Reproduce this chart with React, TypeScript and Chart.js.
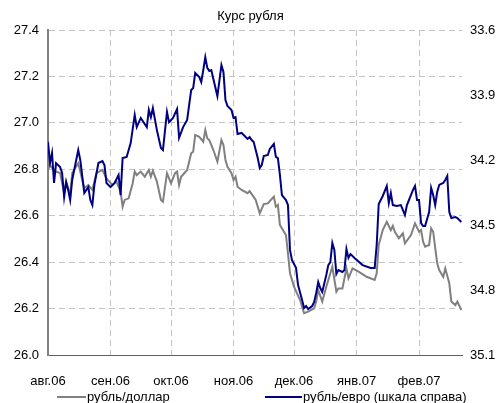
import React, { useEffect, useRef } from 'react';
import { Chart, registerables } from 'chart.js';

Chart.register(...registerables);

const chartTitle = 'Курс рубля';
const usdLabel = 'рубль/доллар';
const eurLabel = 'рубль/евро (шкала справа)';

const monthStarts = ['2006-08-01', '2006-09-01', '2006-10-01', '2006-11-01', '2006-12-01', '2007-01-01', '2007-02-01'];
const monthLabels = ['авг.06', 'сен.06', 'окт.06', 'ноя.06', 'дек.06', 'янв.07', 'фев.07'];
const periodStart = '2006-08-01';
const periodEnd = '2007-02-22';

const usdDates = [
  '2006-08-01', '2006-08-03', '2006-08-05', '2006-08-07', '2006-08-09', '2006-08-10', '2006-08-12', '2006-08-13',
  '2006-08-16', '2006-08-18', '2006-08-19', '2006-08-21', '2006-08-23', '2006-08-25', '2006-08-28', '2006-08-30',
  '2006-09-02', '2006-09-04', '2006-09-06', '2006-09-07', '2006-09-08', '2006-09-10', '2006-09-12', '2006-09-13',
  '2006-09-14', '2006-09-16', '2006-09-18', '2006-09-20', '2006-09-21', '2006-09-22', '2006-09-24', '2006-09-26',
  '2006-09-27', '2006-09-29',
  '2006-10-01', '2006-10-03', '2006-10-04', '2006-10-05', '2006-10-06', '2006-10-09', '2006-10-11', '2006-10-12',
  '2006-10-13', '2006-10-15', '2006-10-17', '2006-10-18', '2006-10-19', '2006-10-20', '2006-10-22', '2006-10-24',
  '2006-10-26', '2006-10-27', '2006-10-28', '2006-10-29', '2006-10-31',
  '2006-11-01', '2006-11-02', '2006-11-03', '2006-11-05', '2006-11-08', '2006-11-09', '2006-11-12', '2006-11-14',
  '2006-11-16', '2006-11-18', '2006-11-21', '2006-11-22', '2006-11-23', '2006-11-24', '2006-11-26', '2006-11-27',
  '2006-11-28', '2006-11-29',
  '2006-12-01', '2006-12-04', '2006-12-06', '2006-12-08', '2006-12-11', '2006-12-12', '2006-12-13', '2006-12-15',
  '2006-12-17', '2006-12-20', '2006-12-22', '2006-12-23', '2006-12-25', '2006-12-27', '2006-12-28', '2006-12-30',
  '2007-01-02', '2007-01-06', '2007-01-10', '2007-01-11', '2007-01-12', '2007-01-14', '2007-01-16', '2007-01-18',
  '2007-01-19', '2007-01-20', '2007-01-22', '2007-01-24', '2007-01-25', '2007-01-28', '2007-01-30',
  '2007-02-01', '2007-02-02', '2007-02-03', '2007-02-04', '2007-02-06', '2007-02-07', '2007-02-08', '2007-02-10',
  '2007-02-11', '2007-02-13', '2007-02-14', '2007-02-16', '2007-02-17', '2007-02-19', '2007-02-20', '2007-02-22',
];
const usdValues = [
  26.827, 26.806, 26.790, 26.784, 26.698, 26.747, 26.689, 26.784, 26.826, 26.754, 26.719, 26.732, 26.711, 26.783, 26.797, 26.761,
  26.732, 26.747, 26.703, 26.639, 26.668, 26.675, 26.740, 26.790, 26.775, 26.790, 26.768, 26.797, 26.768, 26.794, 26.747, 26.668,
  26.660, 26.783,
  26.740, 26.783, 26.790, 26.732, 26.768, 26.797, 26.869, 26.876, 26.948, 26.940, 26.919, 26.969, 26.933, 26.926, 26.883, 26.833,
  26.926, 26.905, 26.840, 26.811, 26.783,
  26.754, 26.768, 26.725, 26.711, 26.697, 26.706, 26.668, 26.610, 26.650, 26.653, 26.682, 26.639, 26.646, 26.560, 26.531, 26.517,
  26.438, 26.352,
  26.294, 26.237, 26.180, 26.187, 26.201, 26.230, 26.280, 26.230, 26.294, 26.380, 26.273, 26.287, 26.287, 26.373, 26.330, 26.373,
  26.359, 26.337, 26.323, 26.352, 26.474, 26.538, 26.574, 26.538, 26.556, 26.531, 26.503, 26.524, 26.481, 26.517, 26.567,
  26.531, 26.538, 26.488, 26.467, 26.474, 26.546, 26.531, 26.395, 26.366, 26.337, 26.373, 26.309, 26.230, 26.215, 26.230, 26.194,
];

const eurDates = [
  '2006-08-01', '2006-08-02', '2006-08-03', '2006-08-04', '2006-08-05', '2006-08-07', '2006-08-08', '2006-08-09',
  '2006-08-10', '2006-08-11', '2006-08-12', '2006-08-13', '2006-08-15', '2006-08-16', '2006-08-17', '2006-08-19',
  '2006-08-21', '2006-08-22', '2006-08-23', '2006-08-24', '2006-08-26', '2006-08-28', '2006-08-29', '2006-08-30',
  '2006-09-01', '2006-09-03', '2006-09-05', '2006-09-06', '2006-09-07', '2006-09-09', '2006-09-11', '2006-09-13',
  '2006-09-14', '2006-09-16', '2006-09-19', '2006-09-20', '2006-09-21', '2006-09-22', '2006-09-24', '2006-09-26',
  '2006-09-27', '2006-09-29', '2006-09-30',
  '2006-10-02', '2006-10-04', '2006-10-05', '2006-10-07', '2006-10-09', '2006-10-10', '2006-10-11', '2006-10-12',
  '2006-10-13', '2006-10-15', '2006-10-16', '2006-10-17', '2006-10-18', '2006-10-19', '2006-10-20', '2006-10-21',
  '2006-10-22', '2006-10-24', '2006-10-26', '2006-10-27', '2006-10-28', '2006-10-29', '2006-10-31',
  '2006-11-01', '2006-11-02', '2006-11-03', '2006-11-05', '2006-11-07', '2006-11-08', '2006-11-09', '2006-11-10',
  '2006-11-11', '2006-11-13', '2006-11-14', '2006-11-15', '2006-11-16', '2006-11-18', '2006-11-19', '2006-11-21',
  '2006-11-22', '2006-11-23', '2006-11-24', '2006-11-25', '2006-11-27', '2006-11-28', '2006-11-29', '2006-11-30',
  '2006-12-02', '2006-12-03', '2006-12-05', '2006-12-06', '2006-12-07', '2006-12-08', '2006-12-10', '2006-12-11',
  '2006-12-12', '2006-12-13', '2006-12-14', '2006-12-15', '2006-12-17', '2006-12-18', '2006-12-19', '2006-12-20',
  '2006-12-21', '2006-12-22', '2006-12-23', '2006-12-25', '2006-12-26', '2006-12-27', '2006-12-28', '2006-12-29',
  '2006-12-31',
  '2007-01-04', '2007-01-08', '2007-01-10', '2007-01-11', '2007-01-12', '2007-01-14', '2007-01-16', '2007-01-17',
  '2007-01-18', '2007-01-19', '2007-01-21', '2007-01-23', '2007-01-24', '2007-01-25', '2007-01-26', '2007-01-29',
  '2007-01-30', '2007-01-31',
  '2007-02-01', '2007-02-02', '2007-02-03', '2007-02-04', '2007-02-06', '2007-02-07', '2007-02-08', '2007-02-09',
  '2007-02-10', '2007-02-11', '2007-02-13', '2007-02-14', '2007-02-15', '2007-02-16', '2007-02-17', '2007-02-19',
  '2007-02-20', '2007-02-22',
];
const eurValues = [
  34.116, 34.214, 34.168, 34.306, 34.214, 34.232, 34.260, 34.371, 34.302, 34.338, 34.385, 34.292, 34.200, 34.154, 34.200, 34.352,
  34.325, 34.385, 34.408, 34.315, 34.214, 34.205, 34.223, 34.306,
  34.325, 34.306, 34.269, 34.362, 34.191, 34.186, 34.122, 33.992, 34.048, 34.006, 34.048, 33.969, 34.002, 33.960, 34.062, 34.145,
  34.154, 33.978, 34.025,
  34.006, 33.965, 34.098, 34.048, 34.015, 33.946, 33.877, 33.868, 33.798, 33.817, 33.840, 33.785, 33.725, 33.775, 33.789, 33.785,
  33.826, 33.905, 33.762, 33.794, 33.923, 33.951, 33.969,
  34.006, 34.002, 34.080, 34.075, 34.094, 34.103, 34.094, 34.108, 34.117, 34.191, 34.237, 34.223, 34.182, 34.177, 34.149, 34.126,
  34.186, 34.191, 34.269, 34.362, 34.385, 34.408, 34.615, 34.662,
  34.698, 34.777, 34.846, 34.883, 34.874, 34.888, 34.874, 34.855, 34.814, 34.763, 34.791, 34.809, 34.731, 34.685, 34.671, 34.583,
  34.615, 34.726, 34.708, 34.717, 34.708, 34.611, 34.652, 34.634, 34.652,
  34.685, 34.698, 34.698, 34.592, 34.403, 34.366, 34.320, 34.398, 34.352, 34.408, 34.412, 34.408, 34.431, 34.454, 34.408, 34.338,
  34.320, 34.385,
  34.385, 34.491, 34.505, 34.505, 34.440, 34.329, 34.362, 34.408, 34.348, 34.315, 34.306, 34.292, 34.274, 34.440, 34.468, 34.463,
  34.468, 34.486,
];

const leftMin = 26.0;
const leftMax = 27.4;
const leftStep = 0.2;
const rightMin = 33.6;
const rightMax = 35.1;
const rightStep = 0.3;

const FONT = '"Liberation Sans", Arial, sans-serif';
const USD_COLOR = '#808080';
const EUR_COLOR = '#000080';

function dayIndex(s: string): number {
  const [y, m, d] = s.split('-').map(Number);
  const [y0, m0, d0] = periodStart.split('-').map(Number);
  return (Date.UTC(y, m - 1, d) - Date.UTC(y0, m0 - 1, d0)) / 86400000;
}

const legendPlugin = {
  id: 'excelLegend',
  afterDraw(chart: any) {
    const ctx = chart.ctx;
    const y = 397;
    const slots = [
      { x0: 57, x1: 86 },
      { x0: 265, x1: 302 },
    ];
    ctx.save();
    ctx.font = `13px ${FONT}`;
    ctx.textBaseline = 'middle';
    ctx.textAlign = 'left';
    chart.data.datasets.forEach((ds: any, i: number) => {
      const s = slots[i];
      if (!s) return;
      ctx.strokeStyle = ds.borderColor;
      ctx.lineWidth = 2;
      ctx.beginPath();
      ctx.moveTo(s.x0, y);
      ctx.lineTo(s.x1, y);
      ctx.stroke();
      ctx.fillStyle = '#000';
      ctx.fillText(ds.label, s.x1 + 1, y);
    });
    ctx.restore();
  },
};

export default function App() {
  const ref = useRef<HTMLCanvasElement | null>(null);

  useEffect(() => {
    document.body.style.margin = '0';
    const canvas = ref.current;
    if (!canvas) return;
    const chart = new Chart(canvas, {
      type: 'line',
      data: {
        datasets: [
          {
            label: usdLabel,
            data: usdDates.map((d, i) => ({ x: dayIndex(d), y: usdValues[i] })),
            borderColor: USD_COLOR,
            backgroundColor: USD_COLOR,
            borderWidth: 2,
            pointRadius: 0,
            tension: 0,
            yAxisID: 'y',
            order: 1,
          },
          {
            label: eurLabel,
            data: eurDates.map((d, i) => ({ x: dayIndex(d), y: eurValues[i] })),
            borderColor: EUR_COLOR,
            backgroundColor: EUR_COLOR,
            borderWidth: 2,
            pointRadius: 0,
            tension: 0,
            yAxisID: 'y2',
            order: 0,
          },
        ],
      },
      options: {
        animation: false,
        responsive: false,
        devicePixelRatio: 1,
        layout: { padding: { left: 0, right: 0, top: 0, bottom: 0 } },
        plugins: {
          legend: { display: false },
          tooltip: { enabled: false },
          title: {
            display: true,
            text: chartTitle,
            color: '#000',
            font: { family: FONT, size: 13, weight: 'normal' },
            padding: { top: 9, bottom: 5.4 },
          },
        },
        scales: {
          x: {
            type: 'linear',
            min: 0,
            max: dayIndex(periodEnd) + 0.3,
            afterBuildTicks: (scale: any) => {
              scale.ticks = monthStarts.map((s) => ({ value: dayIndex(s) }));
            },
            afterFit: (scale: any) => {
              scale.height = 48;
            },
            ticks: {
              autoSkip: false,
              maxRotation: 0,
              padding: 19,
              color: '#000',
              font: { family: FONT, size: 13 },
              callback: (_v: any, i: number) => monthLabels[i],
            },
            grid: { color: '#c4c4c4', lineWidth: 1, drawTicks: false },
            border: { color: '#606060', width: 1, dash: [6, 4] },
          },
          y: {
            position: 'left',
            min: leftMin,
            max: leftMax,
            afterFit: (scale: any) => {
              scale.width = 48;
            },
            ticks: {
              stepSize: leftStep,
              padding: 9,
              color: '#000',
              font: { family: FONT, size: 13 },
              callback: (v: any) => Number(v).toFixed(1),
            },
            grid: { color: '#c4c4c4', lineWidth: 1, drawTicks: false },
            border: { color: '#808080', width: 2, dash: [6, 4] },
          },
          y2: {
            position: 'right',
            reverse: true,
            min: rightMin,
            max: rightMax,
            afterFit: (scale: any) => {
              scale.width = 39;
            },
            ticks: {
              stepSize: rightStep,
              padding: 8,
              color: '#000',
              font: { family: FONT, size: 13 },
              callback: (v: any) => Number(v).toFixed(1),
            },
            grid: { display: false, drawTicks: false },
            border: { display: false },
          },
        },
      },
      plugins: [legendPlugin],
    } as any);
    return () => chart.destroy();
  }, []);

  return (
    <div style={{ width: 501, height: 403 }}>
      <canvas ref={ref} width={501} height={403} />
    </div>
  );
}
